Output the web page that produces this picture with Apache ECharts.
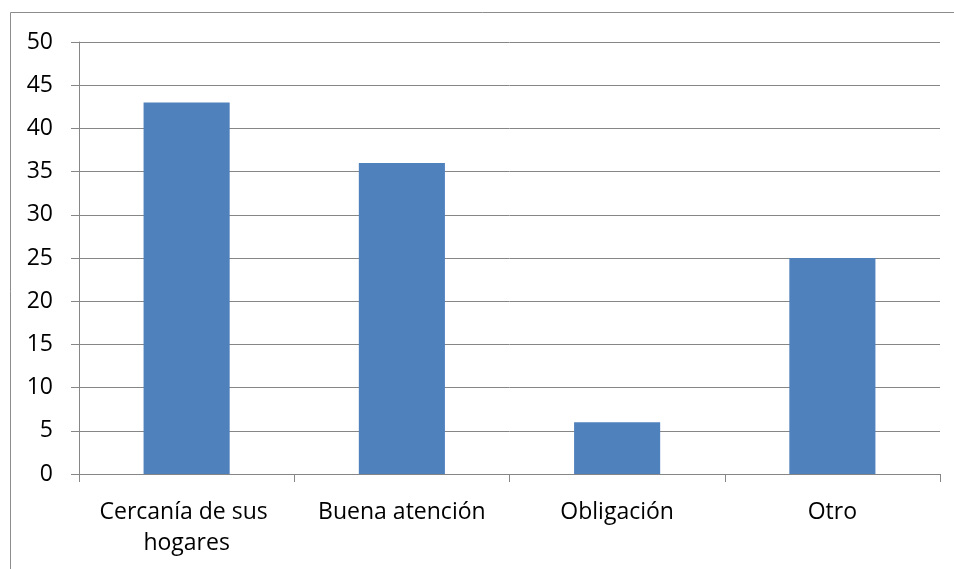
<!DOCTYPE html>
<html>
<head>
<meta charset="utf-8">
<script src="https://cdn.jsdelivr.net/npm/echarts@6/dist/echarts.min.js"></script>
<style>
  html, body { margin: 0; padding: 0; background: #fff; }
  #chart { width: 954px; height: 569px; }
</style>
</head>
<body>
<div id="chart"></div>
<script>
// Reasons given, with the count for each
const categories = ['Cercanía de sus hogares', 'Buena atención', 'Obligación', 'Otro'];
const counts = [43, 36, 6, 25];
const yTicks = { min: 0, max: 50, interval: 5 };

const chart = echarts.init(document.getElementById('chart'));
const font = '"Open Sans", Lato, sans-serif';
const axisGray = '#868686';

chart.setOption({
  animation: false,
  graphic: [{
    type: 'rect',
    shape: { x: 10.5, y: 12.5, width: 1200, height: 800 },
    style: { fill: 'none', stroke: '#8c8c8c', lineWidth: 1 },
    silent: true
  }],
  grid: { left: 79, right: 14, top: 42, bottom: 95 },
  xAxis: {
    type: 'category',
    data: categories,
    axisLine: { lineStyle: { color: axisGray } },
    axisTick: { show: true, length: 8, lineStyle: { color: axisGray } },
    axisLabel: {
      color: '#000',
      fontFamily: font,
      fontSize: 23,
      lineHeight: 31,
      margin: 23,
      width: 200,
      overflow: 'break',
      interval: 0
    }
  },
  yAxis: {
    type: 'value',
    min: yTicks.min,
    max: yTicks.max,
    interval: yTicks.interval,
    axisLine: { show: true, lineStyle: { color: axisGray } },
    axisTick: { show: true, length: 8, lineStyle: { color: axisGray } },
    splitLine: { lineStyle: { color: axisGray, width: 1 } },
    axisLabel: { color: '#000', fontFamily: font, fontSize: 23, margin: 26 }
  },
  series: [{
    type: 'bar',
    data: counts,
    barWidth: '40%',
    itemStyle: { color: '#4F81BD' }
  }]
});
</script>
</body>
</html>
